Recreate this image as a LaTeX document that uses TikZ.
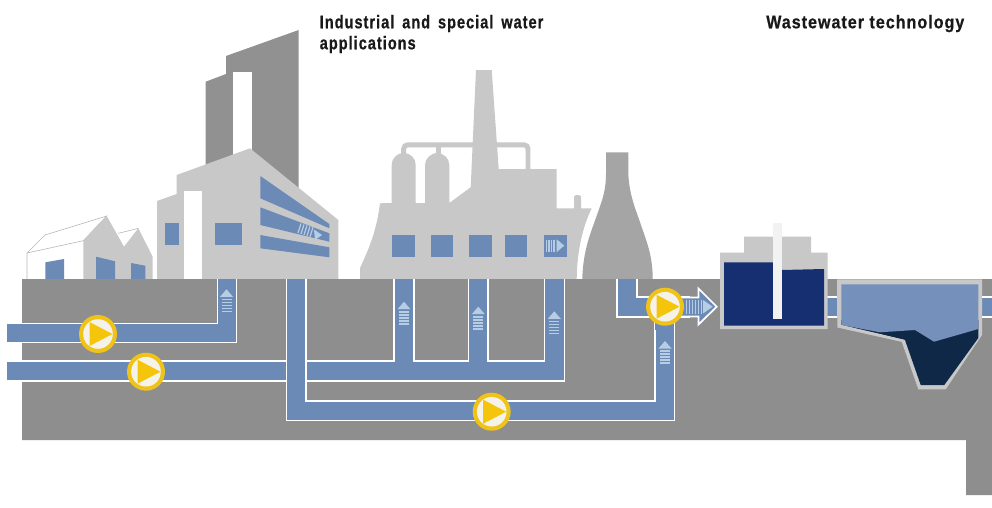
\documentclass[tikz,border=0pt]{standalone}
\usepackage{fontspec}
\newfontfamily\headfont[FakeStretch=0.79,LetterSpace=5.5,FakeBold=0.6,WordSpace=1.57]{Liberation Sans Bold}
\newfontfamily\headwidefont[FakeStretch=0.873,LetterSpace=5.5,FakeBold=0.6]{Liberation Sans Bold}
\definecolor{groundgrey}{HTML}{8F8E8F}
\definecolor{towergrey}{HTML}{919191}
\definecolor{bottlegrey}{HTML}{A5A5A5}
\definecolor{buildgrey}{HTML}{C8C8C8}
\definecolor{pipeblue}{HTML}{6C8AB6}
\definecolor{waterblue}{HTML}{7490BB}
\definecolor{tankblue}{HTML}{152F70}
\definecolor{sludge}{HTML}{0F2847}
\definecolor{flowmark}{HTML}{B7CDE4}
\definecolor{pumpring}{HTML}{EFC318}
\definecolor{pumpface}{HTML}{F5F2EA}
\definecolor{pumpwedge}{HTML}{F5C50C}
\tikzset{
  headline/.style={font=\headfont\fontsize{13.8pt}{16pt}\selectfont,text=black!90,anchor=base west,inner sep=0pt},
  headwide/.style={font=\headwidefont\fontsize{13.8pt}{16pt}\selectfont,text=black!90,anchor=base west,inner sep=0pt},
  pipeedge/.style={draw=white,line join=miter},
  pipecore/.style={draw=pipeblue,line join=miter},
  windowpane/.style={fill=pipeblue},
  pumpmark/.pic={
    \fill[pumpring] (0,0) circle (19);
    \fill[pumpface] (0,0) circle (14.8);
    \fill[pumpwedge] (-8.5,-12) -- (14.5,0) -- (-8.5,12) -- cycle;
  },
  risemark/.pic={
    \fill[flowmark] (-6.5,7.5) -- (0,0) -- (6.5,7.5) -- cycle;
    \foreach \k in {0,1,2,3,4}
      \fill[flowmark] (-5,9.2+3*\k) rectangle (5,11+3*\k);
  }
}
\begin{document}
\begin{tikzpicture}[x=0.75pt,y=-0.75pt]
\useasboundingbox (0,0) rectangle (992,507);
\fill[white] (0,0) rectangle (992,507);

% Distant tower behind the factory hall
\fill[towergrey] (205.7,81.7) -- (226,74) -- (226,56) -- (298.7,30) -- (298.7,190) -- (205.7,170) -- cycle;
\fill[white] (232.7,72.3) rectangle (251.7,156);

% Small workshop with saw-tooth roof
\draw[black!28,line width=0.45pt,fill=white] (27,279) -- (27,253) -- (45,235) -- (106.7,216) -- (83.3,240.7) -- (27,253);
\draw[black!28,line width=0.45pt] (118.3,233.3) -- (138.3,228.3);
\fill[buildgrey] (83.3,240.7) -- (106.7,216) -- (124,246.7) -- (138.3,228.3) -- (152.7,256.7) -- (152.7,279) -- (83.3,279) -- cycle;
\fill[windowpane] (45.3,262.3) -- (64,259) -- (64,279) -- (45.3,279) -- cycle;
\fill[windowpane] (96,256.7) -- (115,261.3) -- (115,279) -- (96,279) -- cycle;
\fill[windowpane] (131,263) -- (145.3,265.7) -- (145.3,279) -- (131,279) -- cycle;

% Factory hall
\fill[buildgrey] (157,201) -- (176.7,194) -- (176.7,175) -- (250,148.3) -- (338.3,220) -- (338.3,279) -- (157,279) -- cycle;
\fill[white] (184,191) rectangle (202,279);
\fill[windowpane] (164.7,223.3) rectangle (178.7,245.3);
\fill[windowpane] (214.7,223.3) rectangle (242.3,245.3);
\fill[windowpane] (260.3,176) -- (329.3,224) -- (329.3,228.3) -- (260.3,198.3) -- cycle;
\fill[windowpane] (260.3,207.3) -- (329.3,233.3) -- (329.3,241.7) -- (260.3,225) -- cycle;
\fill[windowpane] (260.3,235) -- (329.3,247.3) -- (329.3,257.3) -- (260.3,248.3) -- cycle;
\foreach \k in {0,1,2,3,4}
  \draw[flowmark,line width=0.9pt] (298+3*\k,233+0.32*3*\k) -- (301+3*\k,223.5+0.32*3*\k);
\fill[flowmark] (314,229.5) -- (322,235) -- (315,240) -- cycle;

% Refinery with twin vessels and chimney
\draw[buildgrey,line width=3.7pt,rounded corners=3pt] (403.7,165) -- (403.7,144.8) -- (528,144.8) -- (528,170);
\draw[buildgrey,line width=3.7pt] (438.3,165) -- (438.3,144.8);
\fill[buildgrey] (360,279) -- (360,268.3) .. controls (367,252) and (376,235) .. (380,203.3)
  -- (391.7,203) -- (391.7,165) .. controls (391.7,158) and (397,153.5) .. (403.7,152.7)
  .. controls (410.5,153.5) and (415.7,158) .. (415.7,165) -- (415.7,203) -- (425,203) -- (425,165)
  .. controls (425,158) and (431,153.5) .. (437.3,152.7) .. controls (443.5,153.5) and (449.3,158) .. (449.3,165)
  -- (449.3,203) -- (470.7,187.3) -- (476,70) -- (491.7,70) -- (498.7,169) -- (556.7,169) -- (556.7,208.3)
  -- (574,208.3) -- (574,196.5) -- (576,195) -- (579,195) -- (581,196.5) -- (581,208.3) -- (591.7,208.3)
  .. controls (583,226) and (577,250) .. (576.7,279) -- cycle;
\foreach \wx in {392.3,431,469.3,505,544.3}
  \fill[windowpane] (\wx,235) rectangle ++(22.3,22.3);
\foreach \k in {0,1,2,3}
  \fill[flowmark] (545.5+2.6*\k,240) rectangle ++(1.4,11.7);
\fill[flowmark] (556.7,239.3) -- (564.3,245.7) -- (556.7,252) -- cycle;

% Kiln
\fill[bottlegrey] (582.3,279) .. controls (583,250) and (591,232) .. (597,215)
  .. controls (603,198) and (606,190) .. (606,173) -- (606,152.3) -- (628.3,152.3) -- (628.3,173)
  .. controls (629,195) and (636,210) .. (642,228) .. controls (648,245) and (652.7,258) .. (652.7,279) -- cycle;

% Ground block with its step at the right
\fill[groundgrey] (22,279) -- (992,279) -- (992,495) -- (966,495) -- (966,440) -- (22,440) -- cycle;

% Intake main and the pipe to the factory hall
\draw[pipeedge,line width=15pt] (7,333) -- (227,333) -- (227,279);
\draw[pipecore,line width=13pt] (7,333) -- (227,333) -- (227,279);

% Second main with its three risers
\foreach \edge/\wd in {pipeedge/15.9pt,pipecore/13.9pt}{
  \draw[\edge,line width=\wd] (7,371) -- (554.5,371) -- (554.5,279);
  \draw[\edge,line width=\wd] (404,371) -- (404,279);
  \draw[\edge,line width=\wd] (478.2,371) -- (478.2,279);
}
% Return line passing in front of the second main
\foreach \edge/\wd in {pipeedge/15.5pt,pipecore/13.5pt}
  \draw[\edge,line width=\wd] (296.4,279) -- (296.4,410.5) -- (664.5,410.5) -- (664.5,320);

% Feed into the treatment stage
\foreach \edge/\wd in {pipeedge/15.8pt,pipecore/13.9pt}{
  \draw[\edge,line width=\wd] (627,279) -- (627,307) -- (690,307);
  \draw[\edge,line width=\wd] (664.5,307) -- (664.5,330);
}
\draw[draw=white,line width=1.3pt,fill=pipeblue,line join=miter] (660,297.5) -- (698.5,297.5) -- (698.5,288.5) -- (716.7,306.7) -- (698.5,324.5) -- (698.5,316.5) -- (660,316.5);
\foreach \k in {0,1,2,3,4,5}
  \fill[flowmark] (685.5+3*\k,300) rectangle ++(1.6,13.5);
\fill[flowmark] (703,300) -- (712.7,306.7) -- (703,313.5) -- cycle;

% Links between the tanks and out to the right
\foreach \edge/\wd in {pipeedge/15.8pt,pipecore/13.9pt}{
  \draw[\edge,line width=\wd] (826,307) -- (840,307);
  \draw[\edge,line width=\wd] (980,307) -- (992,307);
}

% Aeration tank
\fill[buildgrey] (720,329) -- (720,252.7) -- (744,252.7) -- (744,236.7) -- (811,236.7) -- (811,252.7) -- (827.7,252.7) -- (827.7,329) -- cycle;
\fill[tankblue] (724,325.7) -- (724,262.3) -- (774,262.3) -- (782,270) -- (824,269) -- (824,325.7) -- cycle;
\fill[black!5] (773.3,223) rectangle (782.3,318.7);

% Settling tank with sludge hopper
\fill[buildgrey] (837,279.3) -- (982,279.3) -- (982,335) -- (945.7,389.3) -- (918.3,389.3) -- (901.7,341.7) -- (837.3,327.3) -- cycle;
\fill[sludge] (841.3,325) -- (905,340) -- (920.7,385) -- (944.3,385) -- (978.3,338) -- (978.3,320) -- (841.3,320) -- cycle;
\fill[waterblue] (841.3,284.3) -- (978.3,284.3) -- (978.3,329) -- (934,341.7) -- (915,330) -- (880,332.3) -- (841.3,325) -- cycle;
\fill[buildgrey] (841.3,325) -- (880,334) -- (905,340) -- (901.7,341.7) -- (837.3,327.3) -- cycle;

% Flow markers in the risers
\pic at (226.5,289.3) {risemark};
\pic at (404,301.7) {risemark};
\pic at (478.3,306.7) {risemark};
\pic at (554.3,311.3) {risemark};
\pic at (665,341) {risemark};

% Pumps
\pic at (98,334) {pumpmark};
\pic at (146,371.7) {pumpmark};
\pic at (491.7,411.7) {pumpmark};
\pic at (665,306.7) {pumpmark};

% Headings
\node[headline] (industrial1) at (319.5,28.3) {Industrial and special water};
\node[headline] (industrial2) at (319.5,49.3) {applications};
\node[headwide] (wastewater) at (766,28.3) {Wastewater technology};
\end{tikzpicture}
\end{document}
